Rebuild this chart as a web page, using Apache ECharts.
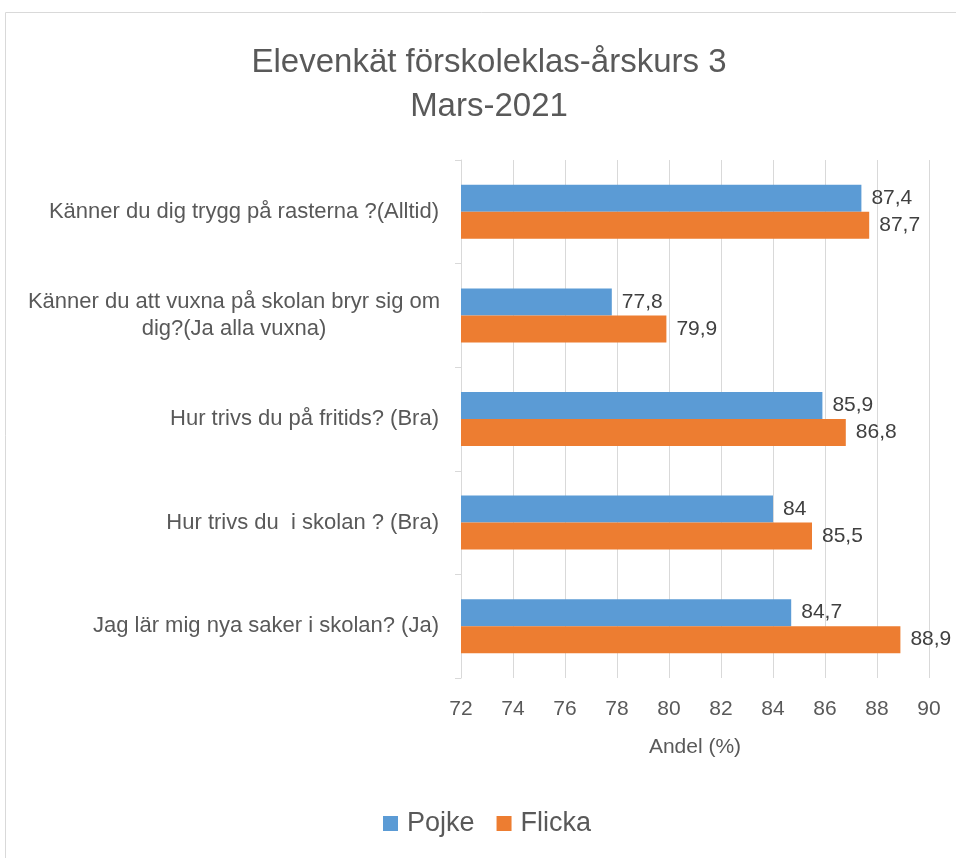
<!DOCTYPE html>
<html><head><meta charset="utf-8">
<script src="https://cdn.jsdelivr.net/npm/echarts@6/dist/echarts.min.js"></script>
<style>html,body{margin:0;padding:0;background:#fff}#c{width:956px;height:858px}</style>
</head><body><div id="c"></div>
<script>
const titleLines = ['Elevenkät förskoleklas-årskurs 3', 'Mars-2021'];
const categories = [
  'Känner du dig trygg på rasterna ?(Alltid)',
  'Känner du att vuxna på skolan bryr sig om\ndig?(Ja alla vuxna)',
  'Hur trivs du på fritids? (Bra)',
  'Hur trivs du  i skolan ? (Bra)',
  'Jag lär mig nya saker i skolan? (Ja)'
];
const seriesNames = ['Pojke', 'Flicka'];
const pojke = [87.4, 77.8, 85.9, 84, 84.7];
const flicka = [87.7, 79.9, 86.8, 85.5, 88.9];
const xMin = 72, xMax = 90, xStep = 2;
const xName = 'Andel (%)';

const FONT = "'Liberation Sans', Arial, sans-serif";
const chart = echarts.init(document.getElementById('c'));
const fmt = p => String(p.value).replace('.', ',');
chart.setOption({
  animation: false,
  graphic: [{type:'rect', shape:{x:5.5,y:12.5,width:1200,height:1200, r:0}, style:{fill:'none', stroke:'#d9d9d9', lineWidth:1}, z:-10}],
  title: {
    text: titleLines.join('\n'), left: 489, top: 41, textAlign: 'center', padding: 0,
    textStyle: {fontFamily: FONT, fontSize: 33, fontWeight: 'normal', color: '#595959', lineHeight: 44}
  },
  legend: {
    data: seriesNames, bottom: 16, left: 378, padding: 5, itemWidth: 15, itemHeight: 15, itemGap: 22,
    icon: 'rect',
    textStyle: {fontFamily: FONT, fontSize: 27, color: '#595959', padding: [0, 0, 0, 4]}
  },
  grid: {left: 461, right: 27, top: 160, bottom: 180, containLabel: false},
  xAxis: {
    type: 'value', min: xMin, max: xMax, interval: xStep,
    name: xName, nameLocation: 'middle', nameGap: 59,
    nameTextStyle: {fontFamily: FONT, fontSize: 21, color: '#595959'},
    axisLine: {show: false}, axisTick: {show: false},
    axisLabel: {fontFamily: FONT, fontSize: 21, color: '#595959', margin: 21},
    splitLine: {show: true, lineStyle: {color: '#d9d9d9', width: 1}}
  },
  yAxis: {
    type: 'category', data: categories, inverse: true,
    axisLine: {show: true, lineStyle: {color: '#d9d9d9'}},
    axisTick: {show: true, length: 6, lineStyle: {color: '#d9d9d9'}},
    axisLabel: {
      fontFamily: FONT, fontSize: 22, color: '#595959', margin: 22, lineHeight: 27,
      formatter: v => v.indexOf('\n') >= 0 ? v.split('\n').map(s => '{c|' + s + '}').join('\n') : v,
      rich: {c: {width: 410, align: 'center', fontFamily: FONT, fontSize: 22, color: '#595959', lineHeight: 27}}
    }
  },
  series: [
    {name: seriesNames[0], type: 'bar', data: pojke, barWidth: 27, barGap: '0%', barCategoryGap: '48%',
     itemStyle: {color: '#5B9BD5'},
     label: {show: true, position: 'right', distance: 10, formatter: fmt, fontFamily: FONT, fontSize: 21, color: '#404040'}},
    {name: seriesNames[1], type: 'bar', data: flicka, barWidth: 27, barGap: '0%',
     itemStyle: {color: '#ED7D31'},
     label: {show: true, position: 'right', distance: 10, formatter: fmt, fontFamily: FONT, fontSize: 21, color: '#404040'}}
  ]
});
</script></body></html>
